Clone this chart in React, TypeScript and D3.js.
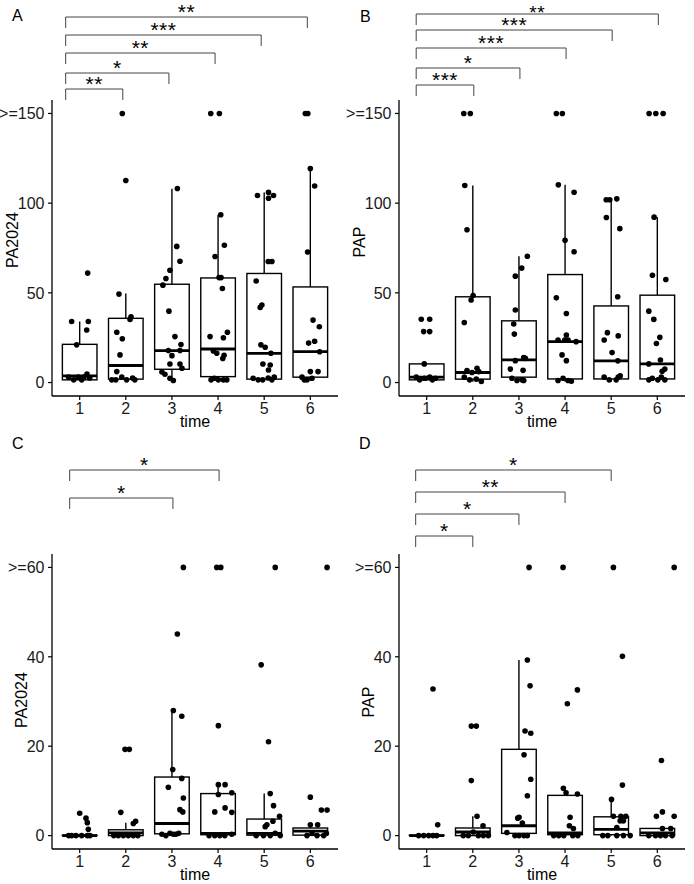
import React from 'react';
import * as d3 from 'd3';

// ---------- data ----------
const times = ['1', '2', '3', '4', '5', '6'];
const topTicks = [0, 50, 100, 150];
const topTickLabels = ['0', '50', '100', '>=150'];
const bottomTicks = [0, 20, 40, 60];
const bottomTickLabels = ['0', '20', '40', '>=60'];

// box stats per time: [lowerWhisker, q1, median, q3, upperWhisker]
const boxesA = [
  [1, 1.5, 3.7, 21.3, 34],
  [1, 1.9, 9.5, 35.8, 49.6],
  [1, 7.4, 17.8, 54.8, 108],
  [1, 3.3, 18.7, 58.3, 93.5],
  [1, 1.9, 16.3, 60.8, 106],
  [1, 3, 17.2, 53.3, 119.3],
];
const boxesB = [
  [1, 1.5, 3, 10.4, 10.4],
  [0.5, 1.9, 5.6, 47.8, 109.8],
  [1, 3, 12.6, 34.4, 70.4],
  [0.5, 2, 22.8, 60.2, 110.2],
  [0.5, 2, 12.1, 42.7, 102],
  [0.5, 2, 10.4, 48.7, 92.2],
];
const boxesC = [
  [0, 0, 0, 0.1, 0.1],
  [0, 0, 0.6, 1.3, 2.9],
  [0, 0.4, 2.7, 13.1, 28],
  [0, 0.2, 0.5, 9.4, 11.4],
  [0, 0.1, 0.5, 3.7, 9.4],
  [0, 0.1, 1.0, 1.7, 2.4],
];
const boxesD = [
  [0, 0, 0, 0.1, 0.1],
  [0, 0, 0.8, 1.7, 4.3],
  [0, 0.5, 2.2, 19.3, 39.3],
  [0, 0.2, 0.6, 9.0, 10.6],
  [0, 0.2, 1.4, 4.2, 8.1],
  [0, 0, 0.6, 1.6, 1.6],
];

// jittered observations per time: [value, jitter (1/46 of a category step)]
const pointsA = [
  [[61, 8], [34, -8], [34, 8.6], [29.3, 7], [21, -3], [3, -11], [1.5, -6], [3, -1.5], [1.5, 2], [3, 4.3], [4.8, 7.3], [2.5, 10]],
  [[150, -3.5], [112.6, 0], [49.3, -6.8], [36.7, 5.2], [35.2, 4.2], [28, -9], [24.4, -3.5], [15.4, -5.8], [6.1, -9], [1.5, -14], [1.5, -10], [3, -4], [1.5, 0.8], [2.5, 6.8], [1.5, 9]],
  [[108.2, 5.4], [75.9, 4.8], [67.6, 8], [62.6, -2], [58, -6], [54.3, -9], [39.8, -3], [25.6, 3], [21.2, 9], [17.8, -3.6], [17.8, 8], [15, 0], [10.3, -2], [10.3, 8], [8, 10], [5.9, -10], [4.6, -7], [2.4, -2], [1.1, 1.4]],
  [[150, -7.3], [150, 1.3], [93.5, 2.7], [76.5, 6.3], [70.3, -3], [58.5, 1], [58.5, 3], [52.4, 4.3], [28, 9.3], [25.6, -8], [25, 5.3], [17.6, -4.7], [16.3, -1.3], [13.4, 4.7], [15.2, 6], [2.4, -3.7], [1.5, 0.3], [1.5, 5.3], [1.5, 8.7], [1.5, -7]],
  [[104.3, -6.7], [106, 4.3], [102.7, 4.3], [104.3, 9.3], [67.5, 4], [67.5, 7.7], [56.6, -8], [43.2, -2.3], [41.9, -4], [21, -3.3], [19.7, 1], [16.3, 6.7], [10.3, -1.3], [9.8, 6], [7, 4.3], [2.4, -11], [1.5, -6], [1.5, -1.5], [2.5, 4], [1.5, 7.7], [3, 10]],
  [[150, -5], [150, -2.5], [119.3, 0], [109.6, 4.3], [72.8, -2.7], [34.8, 2.7], [31.1, 9], [22, -1.7], [23, 4.3], [17.2, 9.3], [6.1, 0], [6.1, 7.7], [3, -8.3], [1.5, -6], [1.5, -3.3], [2.4, 1.7]],
];
const pointsB = [
  [[35.3, -5.4], [35.3, 3], [28.4, -3], [28.4, 3], [10.4, -2.4], [3, -10.4], [1.5, -7], [2.4, -2], [3, 3], [1.5, 5.7], [2.4, 8.7]],
  [[150, -9], [150, -2.5], [109.8, -8], [85.2, -5.8], [48.5, 0.3], [46, -1.7], [33.5, -8.5], [8, 4.2], [6.7, -5.8], [5.6, -0.8], [6.1, 5.9], [3, -8.5], [1.5, -3.2], [1.9, 3.5], [0.6, 8.5]],
  [[70.4, 8.4], [63.8, 2.8], [59.3, -3.6], [40.4, -3.6], [32.6, -5.2], [27, -4.6], [13.9, 4.8], [13.5, 6.4], [12.2, -3.6], [7.5, -8.6], [6.8, 4.1], [2.4, -7], [1.1, -2], [1.5, 3], [1.1, 4.8]],
  [[150, -8.7], [150, -2.7], [110.2, -6.7], [106.1, 9], [79.3, 0], [72.9, 9], [47.2, -8.7], [38.5, 1.3], [26.5, 1.3], [23.7, -0.3], [23.7, 3], [22.8, 11], [23.7, -7], [15.4, -3], [12.2, 1.3], [1.1, -7], [2.4, -2], [1.1, 3], [0.7, 6.3]],
  [[101.9, -5], [101.9, -1.4], [102.4, 5.6], [92, -4.8], [85.8, 8.6], [47.8, 6.5], [27.8, -3.8], [26, 7], [23.7, -7], [16.7, 0.9], [12.1, 6.6], [3, -7], [1.5, -2], [1.5, 5], [3, 7], [3.7, 9]],
  [[150, -8.2], [150, -1.5], [150, 5.8], [92.2, -3.2], [59.8, -4.9], [57.4, 8.5], [39.8, -8.5], [35.2, -3.5], [25.2, 2.5], [21.8, -0.9], [12.6, 3.1], [10.4, -8.5], [7.5, 7.5], [6.3, 4.8], [1.5, -8.5], [2.4, -5], [1.5, 0.5], [3, 4], [1.5, 7.5]],
];
const pointsC = [
  [[5, 0], [3.9, 6.3], [2.9, 7.6], [1.4, 8.6], [0, -8], [0, -3.7], [0, 2], [0, 7.6], [0, 10.3], [0, -11]],
  [[19.3, -0.8], [19.3, 3.5], [5.2, -5], [2.7, 7.5], [3.2, 9.8], [0, -12], [0, -7.5], [0, -2.5], [0, 2.5], [0, 7.5], [0, 12]],
  [[60, 11.4], [45.1, 5.4], [28, 1.4], [26.7, 9.8], [14.8, 0.8], [12.8, 9.8], [10.8, -3.6], [8.4, 11.4], [5.8, 8], [5.3, 10.8], [0.5, -2], [0.3, 1.4], [0.3, 4], [0.5, 6.8], [0.3, -10], [0, -6]],
  [[60, -1.3], [60, 2.7], [24.6, 0.3], [11.4, 0.3], [11.4, 7], [9.6, 13.7], [9.2, 0.3], [5.3, -3.3], [6.2, 7], [5.2, 13.7], [0, -3.3], [0, 1.7], [0, 6.7], [0.3, 13.7], [0, -9]],
  [[60, 11], [38.2, -3], [21, 4.3], [9.4, 6], [6.7, 9.3], [4.3, 15.3], [3.2, 8.7], [2.4, 2.7], [2, 1], [0, -0.7], [0, 6], [0.5, 11], [0, 16], [0, -8]],
  [[60, 16.7], [8.6, 0], [5.7, 11], [5.7, 16.7], [2.4, 0], [2.4, 7.3], [0, -3.3], [0.5, 1.7], [0, 6.7], [0, 13.3], [0.5, 16]],
];
const pointsD = [
  [[32.8, 6.3], [2.4, 11], [0, -8], [0, -3], [0, 2], [0, 6.3], [0, 10]],
  [[24.5, -1.5], [24.5, 3.5], [12.3, -1.5], [4.3, 4.2], [2.2, 10.2], [0, -9.5], [0, -4.5], [0.8, 0.5], [0, 5.5], [0, 10.5], [0, 15.5]],
  [[60, 10.1], [39.3, 8.4], [33.5, 11.1], [23.4, 6.1], [22.9, 11.8], [18.1, 5.1], [12.6, 11.8], [8.9, 8.4], [4.1, 0.1], [2.8, 3.4], [3.9, -1.2], [0, -4], [0, 0.1], [0, 5], [0, 8.4], [0.7, -12]],
  [[60, -2], [32.6, 12.3], [29.5, 2.3], [10.6, -1.7], [9.6, 1], [9.3, 12.3], [4.1, 5], [2.2, 4.3], [1.6, 8.3], [0, -11.3], [0, -6.3], [0, -1.3], [0, 7.7], [0, 12.7]],
  [[60, 2.2], [40.1, 11.2], [11.3, 11.2], [8.1, 0.3], [4.3, 2.2], [4.3, 9.6], [4.3, 14.6], [3.3, 8.9], [3.3, 12.2], [1.8, 5.6], [0, -8.4], [0, -3.4], [0, 5.6], [0, 12.2], [0, 18.9]],
  [[60, 16.8], [16.8, 4.1], [5.3, 5.1], [4.3, -0.9], [4.3, 16.8], [1.6, 5.1], [1.6, 13.4], [0, -8.5], [0, -1.8], [0, 3.1], [0, 8.1], [0, 14.8]],
];

// significance brackets: [fromTime, toTime, label]
const bracketsA = [[1, 6, '**'], [1, 5, '***'], [1, 4, '**'], [1, 3, '*'], [1, 2, '**']];
const bracketsB = [[1, 6, '**'], [1, 5, '***'], [1, 4, '***'], [1, 3, '*'], [1, 2, '***']];
const bracketsC = [[1, 4, '*'], [1, 3, '*']];
const bracketsD = [[1, 5, '*'], [1, 4, '**'], [1, 3, '*'], [1, 2, '*']];

// ---------- layout ----------
const FONT = '"Liberation Sans", Arial, Helvetica, sans-serif';

const panels = [
  { tag: 'A', tagX: 12, tagY: 21, x0: 52, x1: 338, yBot: 396, yTop: 100, dom: [-7.5, 157.5], ticks: topTicks, tickLabels: topTickLabels, title: 'PA2024', titleX: 18, titleY: 240, boxes: boxesA, points: pointsA, brackets: bracketsA, bY: [17, 35, 53, 73, 89], lOff: -14, rOff: -3 },
  { tag: 'B', tagX: 360, tagY: 22, x0: 399, x1: 685, yBot: 396, yTop: 100, dom: [-7.5, 157.5], ticks: topTicks, tickLabels: topTickLabels, title: 'PAP', titleX: 365, titleY: 242, boxes: boxesB, points: pointsB, brackets: bracketsB, bY: [14, 30, 48, 68, 85], lOff: -10.5, rOff: 1 },
  { tag: 'C', tagX: 12, tagY: 449, x0: 52, x1: 338, yBot: 849, yTop: 554, dom: [-3, 63], ticks: bottomTicks, tickLabels: bottomTickLabels, title: 'PA2024', titleX: 27, titleY: 700, boxes: boxesC, points: pointsC, brackets: bracketsC, bY: [470, 498], lOff: -10, rOff: 1 },
  { tag: 'D', tagX: 359, tagY: 449, x0: 399, x1: 685, yBot: 849, yTop: 554, dom: [-3, 63], ticks: bottomTicks, tickLabels: bottomTickLabels, title: 'PAP', titleX: 374, titleY: 702, boxes: boxesD, points: pointsD, brackets: bracketsD, bY: [470, 492, 514, 536], lOff: -11, rOff: 0 },
];

function Panel({ p }: { p: any }) {
  const x = d3.scaleLinear().domain([0.4, 6.6]).range([p.x0, p.x1]);
  const y = d3.scaleLinear().domain(p.dom).range([p.yBot, p.yTop]);
  const step = x(2) - x(1);
  const halfW = (step * 0.75) / 2;
  const jit = (j: number) => (j / 46) * step;
  return (
    <g>
      <text x={p.tagX} y={p.tagY} fontSize={16} fontFamily={FONT}>{p.tag}</text>
      {p.brackets.map((b: any, i: number) => {
        const xl = x(b[0]) + p.lOff;
        const xr = x(b[1]) + p.rOff;
        const yy = p.bY[i];
        return (
          <g key={'br' + i}>
            <path d={`M${xl},${yy + 11}V${yy}H${xr}V${yy + 11}`} fill="none" stroke="#444" strokeWidth={1} />
            <text x={(xl + xr) / 2} y={Math.max(yy + 2, 19)} textAnchor="middle" fontSize={yy < 15 ? 19 : 21} fontFamily={FONT} letterSpacing={0.5}>{b[2]}</text>
          </g>
        );
      })}
      {p.boxes.map((bx: number[], i: number) => {
        const cx = x(i + 1);
        return (
          <g key={'bx' + i}>
            <line x1={cx} x2={cx} y1={y(bx[3])} y2={y(bx[4])} stroke="#000" strokeWidth={1.4} />
            <line x1={cx} x2={cx} y1={y(bx[1])} y2={y(bx[0])} stroke="#000" strokeWidth={1.4} />
            <rect x={cx - halfW} width={halfW * 2} y={y(bx[3])} height={Math.max(0, y(bx[1]) - y(bx[3]))} fill="#fff" stroke="#000" strokeWidth={1.4} />
            <line x1={cx - halfW} x2={cx + halfW} y1={y(bx[2])} y2={y(bx[2])} stroke="#000" strokeWidth={2.8} />
          </g>
        );
      })}
      {p.points.map((grp: number[][], i: number) =>
        grp.map((pt, k) => (
          <circle key={'pt' + i + '-' + k} cx={x(i + 1) + jit(pt[1])} cy={y(Math.min(pt[0], p.dom[1]))} r={2.8} fill="#000" />
        ))
      )}
      <line x1={p.x0} x2={p.x0} y1={p.yTop} y2={p.yBot} stroke="#000" strokeWidth={1.3} />
      <line x1={p.x0} x2={p.x1} y1={p.yBot} y2={p.yBot} stroke="#000" strokeWidth={1.3} />
      {p.ticks.map((t: number, i: number) => (
        <g key={'yt' + i}>
          <line x1={p.x0 - 4} x2={p.x0} y1={y(t)} y2={y(t)} stroke="#000" strokeWidth={1.2} />
          <text x={p.x0 - 7.5} y={y(t)} dy="0.36em" textAnchor="end" fontSize={16} fontFamily={FONT} fill="#1a1a1a">{p.tickLabels[i]}</text>
        </g>
      ))}
      {times.map((t, i) => (
        <g key={'xt' + i}>
          <line x1={x(i + 1)} x2={x(i + 1)} y1={p.yBot} y2={p.yBot + 4} stroke="#000" strokeWidth={1.2} />
          <text x={x(i + 1)} y={p.yBot + 17.5} textAnchor="middle" fontSize={16} fontFamily={FONT} fill="#1a1a1a">{t}</text>
        </g>
      ))}
      <text x={(p.x0 + p.x1) / 2} y={p.yBot + 31} textAnchor="middle" fontSize={16} fontFamily={FONT}>time</text>
      <text transform={`translate(${p.titleX},${p.titleY}) rotate(-90)`} textAnchor="middle" fontSize={16} fontFamily={FONT}>{p.title}</text>
    </g>
  );
}

export default function App() {
  return (
    <svg width={694} height={884} style={{ position: 'absolute', left: 0, top: 0, background: '#fff' }}>
      <rect width={694} height={884} fill="#fff" />
      {panels.map((p) => (
        <Panel key={p.tag} p={p} />
      ))}
    </svg>
  );
}
